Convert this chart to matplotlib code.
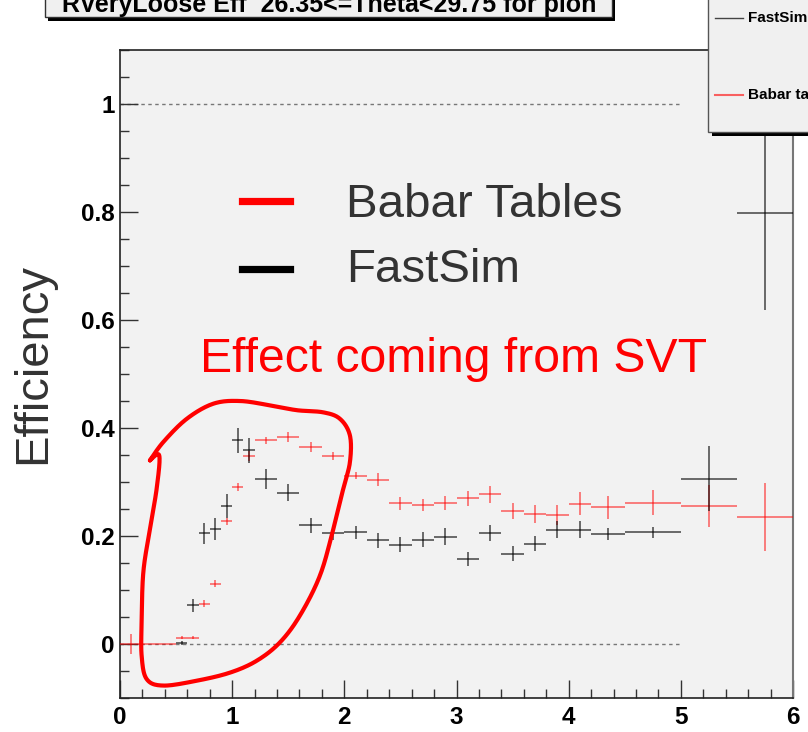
import numpy as np
import matplotlib
matplotlib.use("Agg")
import matplotlib.pyplot as plt
from matplotlib.patches import Rectangle
from matplotlib.lines import Line2D

plt.rcParams['font.family'] = ['Liberation Sans', 'DejaVu Sans']

# ---------------- data ----------------
fast_x = [0.55, 0.65, 0.75, 0.85, 0.95, 1.05, 1.15, 1.3, 1.5, 1.7, 1.9, 2.1, 2.3, 2.5, 2.7,
          2.9, 3.1, 3.3, 3.5, 3.7, 3.9, 4.1, 4.35, 4.75, 5.25, 5.75]
fast_xerr = [0.05] * 7 + [0.1] * 15 + [0.15, 0.25, 0.25, 0.25]
fast_y = [0.002, 0.072, 0.205, 0.213, 0.255, 0.377, 0.359, 0.306, 0.280, 0.220, 0.205, 0.207,
          0.192, 0.184, 0.193, 0.199, 0.158, 0.206, 0.167, 0.186, 0.212, 0.212, 0.203, 0.207,
          0.306, 0.799]
fast_yerr = [0.003, 0.012, 0.020, 0.020, 0.022, 0.023, 0.023, 0.019, 0.016, 0.014, 0.013, 0.012,
             0.014, 0.014, 0.014, 0.015, 0.013, 0.015, 0.014, 0.014, 0.015, 0.015, 0.011, 0.010,
             0.060, 0.180]

babar_x = [0.1, 0.25, 0.35, 0.45, 0.55, 0.65, 0.75, 0.85, 0.95, 1.05, 1.15, 1.3, 1.5, 1.7, 1.9,
           2.1, 2.3, 2.5, 2.7, 2.9, 3.1, 3.3, 3.5, 3.7, 3.9, 4.1, 4.35, 4.75, 5.25, 5.75]
babar_xerr = [0.1] + [0.05] * 10 + [0.1] * 15 + [0.15, 0.25, 0.25, 0.25]
babar_y = [0.0, 0.0, 0.0, 0.0, 0.012, 0.012, 0.075, 0.112, 0.227, 0.291, 0.348, 0.377, 0.383,
           0.365, 0.348, 0.312, 0.304, 0.261, 0.258, 0.262, 0.270, 0.277, 0.247, 0.241, 0.239,
           0.260, 0.253, 0.262, 0.256, 0.235]
babar_yerr = [0.018, 0.0, 0.0, 0.0, 0.003, 0.003, 0.006, 0.006, 0.007, 0.007, 0.010, 0.007,
              0.009, 0.009, 0.008, 0.007, 0.012, 0.012, 0.011, 0.013, 0.014, 0.015, 0.015,
              0.017, 0.019, 0.022, 0.021, 0.023, 0.039, 0.063]

y_ticks = [0, 0.2, 0.4, 0.6, 0.8, 1]
y_tick_labels = ["0", "0.2", "0.4", "0.6", "0.8", "1"]
x_ticks = [0, 1, 2, 3, 4, 5, 6]
x_tick_labels = ["0", "1", "2", "3", "4", "5", "6"]

title_text = "RVeryLoose Eff  26.35<=Theta<29.75 for pion"

# hand-drawn loop annotation (data coordinates)
loop_x = [0.267, 0.386, 0.595, 0.832, 1.070, 1.337, 1.575, 1.812, 1.961, 2.050, 2.050, 1.991,
          1.902, 1.783, 1.605, 1.426, 1.219, 0.981, 0.684, 0.386, 0.238, 0.193, 0.193, 0.208,
          0.267, 0.327, 0.350, 0.267]
loop_y = [0.340, 0.374, 0.417, 0.445, 0.450, 0.442, 0.433, 0.429, 0.417, 0.386, 0.337, 0.288,
          0.213, 0.127, 0.053, 0.003, -0.031, -0.053, -0.068, -0.077, -0.065, -0.022, 0.040,
          0.133, 0.213, 0.288, 0.349, 0.340]

# ---------------- figure ----------------
W, H = 808, 732
fig = plt.figure(figsize=(W / 100, H / 100), dpi=100, facecolor='white')

def fx(px):
    return px / W

def fy(py):
    return 1 - py / H

ax = fig.add_axes([fx(120), fy(698), (793 - 120) / W, (698 - 50) / H])
ax.set_facecolor('#f2f2f2')
ax.set_xlim(0, 6)
ax.set_ylim(-0.1, 1.1)

for s in ['left', 'bottom', 'top']:
    ax.spines[s].set_color('#222222')
    ax.spines[s].set_linewidth(1.2)
ax.spines['right'].set_color('#777777')
ax.spines['right'].set_linewidth(1.5)

ax.set_yticks(y_ticks)
ax.set_yticklabels(y_tick_labels)
ax.set_yticks(np.arange(-0.1, 1.1001, 0.05), minor=True)
ax.set_xticks(x_ticks)
ax.set_xticklabels(x_tick_labels)
ax.set_xticks(np.arange(0, 6.001, 0.2), minor=True)
ax.tick_params(axis='both', which='major', direction='in', length=13, width=1.0,
               color='#333333', labelsize=17.5)
ax.tick_params(axis='both', which='minor', direction='in', length=6.5, width=1.0,
               color='#333333')
ax.tick_params(axis='y', which='major', pad=4)
ax.tick_params(axis='x', which='major', pad=6)
for lab in ax.get_xticklabels() + ax.get_yticklabels():
    lab.set_fontweight('bold')

# dotted reference lines
ax.plot([0, 5], [0, 0], color='#777777', lw=1.0, ls=(0, (2.5, 2.5)), zorder=1)
ax.plot([0, 5], [1, 1], color='#777777', lw=1.0, ls=(0, (2.5, 2.5)), zorder=1)

# data
ax.errorbar(babar_x, babar_y, xerr=babar_xerr, yerr=babar_yerr, fmt='none',
            ecolor=(1, 0, 0, 0.62), elinewidth=1.1, capsize=0, zorder=3)
ax.errorbar(fast_x, fast_y, xerr=fast_xerr, yerr=fast_yerr, fmt='none',
            ecolor=(0, 0, 0, 0.72), elinewidth=1.1, capsize=0, zorder=4)

# loop annotation
pts = np.column_stack([loop_x, loop_y])

def catmull(points, n=20):
    out = []
    P = np.vstack([points[0], points, points[-1]])
    for i in range(1, len(P) - 2):
        p0, p1, p2, p3 = P[i - 1], P[i], P[i + 1], P[i + 2]
        for t in np.linspace(0, 1, n, endpoint=False):
            t2, t3 = t * t, t * t * t
            out.append(0.5 * ((2 * p1) + (-p0 + p2) * t + (2 * p0 - 5 * p1 + 4 * p2 - p3) * t2
                              + (-p0 + 3 * p1 - 3 * p2 + p3) * t3))
    out.append(points[-1])
    return np.array(out)

curve = catmull(pts)
ax.plot(curve[:, 0], curve[:, 1], color='red', lw=3.0, solid_capstyle='round',
        solid_joinstyle='round', zorder=6, clip_on=False)

# big legend text in the plot
fig.add_artist(Line2D([fx(242), fx(290)], [fy(201), fy(201)], color='red', lw=5.2))
fig.add_artist(Line2D([fx(242), fx(290)], [fy(269), fy(269)], color='black', lw=5.2))
fig.text(fx(346), fy(217), "Babar Tables", fontsize=34.2, color='#333333', va='baseline')
fig.text(fx(346), fy(282), "FastSim", fontsize=34.2, color='#333333', va='baseline')
fig.text(fx(200), fy(372), "Effect coming from SVT", fontsize=34.7, color='red', va='baseline')

# y label
fig.text(fx(33), fy(363), "Efficiency", fontsize=34, color='#333333', rotation=90,
         ha='center', va='center')

# title box (cut off at the top, as in the reference)
fig.add_artist(Rectangle((fx(48), fy(21)), (612 - 45) / W, 40 / H, transform=fig.transFigure,
                         facecolor='black', edgecolor='none', zorder=5))
fig.add_artist(Rectangle((fx(45), fy(17)), (612 - 45) / W, 40 / H, transform=fig.transFigure,
                         facecolor='#f0f0f0', edgecolor='#333333', lw=1.0, zorder=5.1))
fig.text(fx(62), fy(12), title_text, fontsize=18, fontweight='bold', color='black',
         va='baseline', ha='left', zorder=6)

# legend box top right (cut off, as in the reference)
fig.add_artist(Rectangle((fx(712), fy(136)), 200 / W, 160 / H, transform=fig.transFigure,
                         facecolor='black', edgecolor='none', zorder=5))
fig.add_artist(Rectangle((fx(708), fy(132)), 200 / W, 160 / H, transform=fig.transFigure,
                         facecolor='#f0f0f0', edgecolor='#555555', lw=1.0, zorder=5.1))
fig.add_artist(Line2D([fx(715), fx(743)], [fy(18), fy(18)], color='#444444', lw=1.0, zorder=6))
fig.add_artist(Line2D([fx(715), fx(743)], [fy(95), fy(95)], color=(1, 0, 0, 0.6), lw=1.5, zorder=6))
fig.text(fx(748), fy(18), "FastSim", fontsize=11, fontweight='bold', va='center', zorder=7)
fig.text(fx(748), fy(95), "Babar tables", fontsize=11, fontweight='bold', va='center', zorder=7)

fig.savefig("out.png", dpi=100, facecolor='white')
